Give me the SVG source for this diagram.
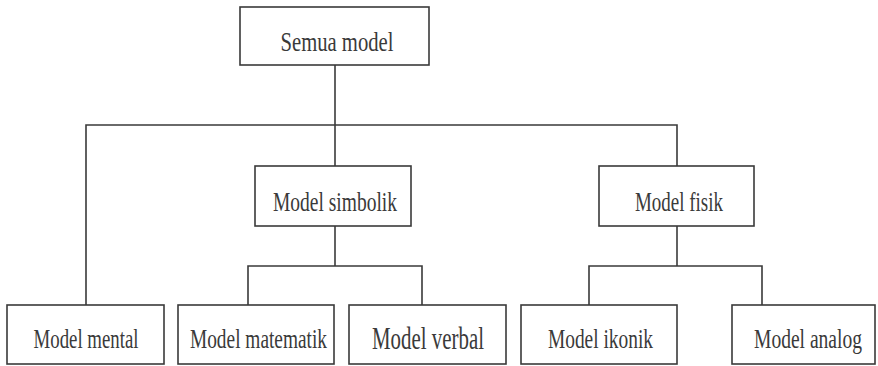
<svg xmlns="http://www.w3.org/2000/svg" width="878" height="366" viewBox="0 0 878 366">
  <style>
    .box { fill: #ffffff; stroke: #3a3a3a; stroke-width: 1.6; }
    .lbl { font-family: "Liberation Serif", "Times New Roman", serif; font-size: 28px; fill: #3a3a3a; text-anchor: middle; }
    .big { font-size: 31px; }
    .wire { fill: none; stroke: #3a3a3a; stroke-width: 1.6; }
  </style>
  <rect width="878" height="366" fill="#ffffff"/>

  <!-- tree connectors -->
  <g id="connectors">
    <path class="wire" d="M335 65 V125"/>
    <path class="wire" d="M86 305 V125 H677 V166"/>
    <path class="wire" d="M335 125 V166"/>
    <path class="wire" d="M335 226 V266"/>
    <path class="wire" d="M248 305 V266 H422 V305"/>
    <path class="wire" d="M677 226 V266"/>
    <path class="wire" d="M589 305 V266 H762 V305"/>
  </g>

  <g id="semua-model">
    <rect class="box" x="240" y="7" width="189" height="58"/>
    <text class="lbl" x="337" y="51" textLength="113" lengthAdjust="spacingAndGlyphs">Semua model</text>
  </g>

  <g id="model-simbolik">
    <rect class="box" x="255" y="166" width="156" height="60"/>
    <text class="lbl" x="335" y="211" textLength="124" lengthAdjust="spacingAndGlyphs">Model simbolik</text>
  </g>

  <g id="model-fisik">
    <rect class="box" x="599" y="166" width="155" height="60"/>
    <text class="lbl" x="679" y="211" textLength="88" lengthAdjust="spacingAndGlyphs">Model fisik</text>
  </g>

  <g id="model-mental">
    <rect class="box" x="7" y="305" width="157" height="59"/>
    <text class="lbl" x="86" y="348" textLength="105" lengthAdjust="spacingAndGlyphs">Model mental</text>
  </g>

  <g id="model-matematik">
    <rect class="box" x="178" y="305" width="156" height="59"/>
    <text class="lbl" x="258.5" y="348" textLength="137" lengthAdjust="spacingAndGlyphs">Model matematik</text>
  </g>

  <g id="model-verbal">
    <rect class="box" x="349" y="305" width="157" height="59"/>
    <text class="lbl big" x="428" y="349" textLength="112" lengthAdjust="spacingAndGlyphs">Model verbal</text>
  </g>

  <g id="model-ikonik">
    <rect class="box" x="521" y="305" width="156" height="59"/>
    <text class="lbl" x="600.5" y="348" textLength="105" lengthAdjust="spacingAndGlyphs">Model ikonik</text>
  </g>

  <g id="model-analog">
    <rect class="box" x="732" y="305" width="143" height="59"/>
    <text class="lbl" x="808" y="348" textLength="108" lengthAdjust="spacingAndGlyphs">Model analog</text>
  </g>
</svg>
